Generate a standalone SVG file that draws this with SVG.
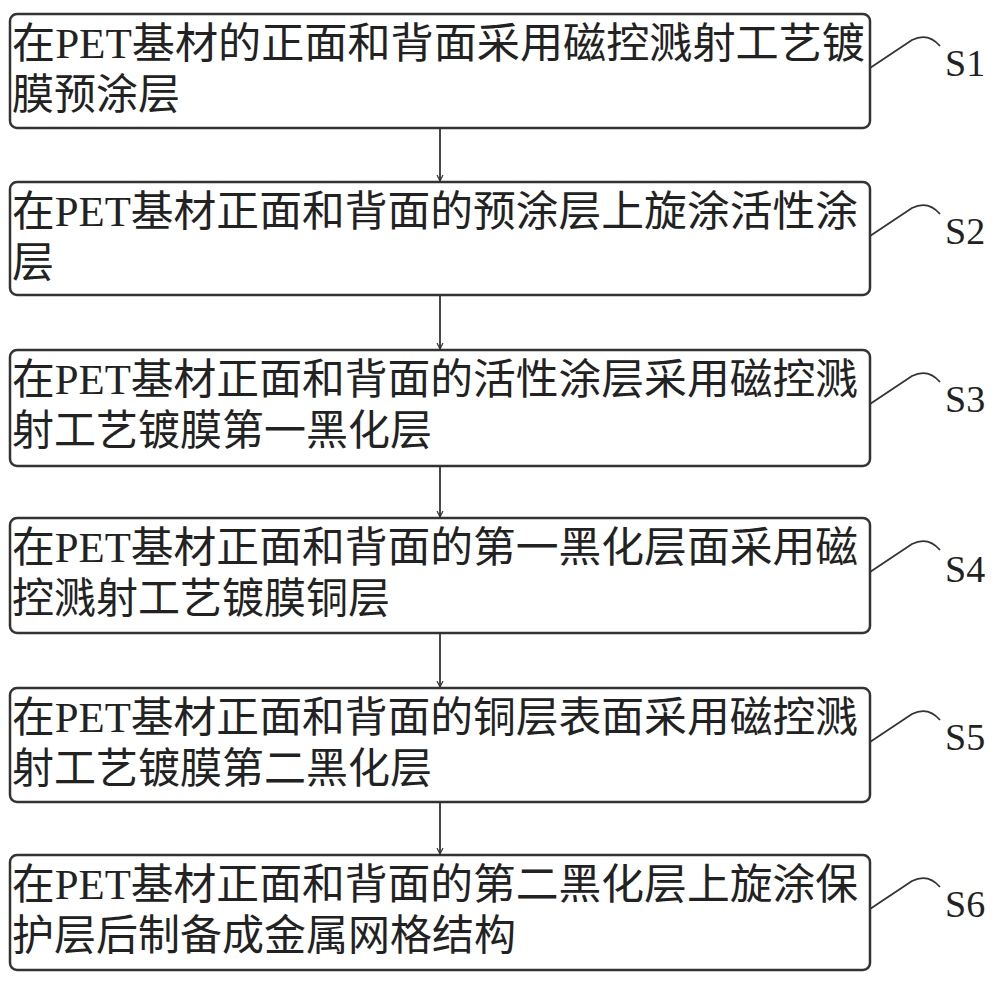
<svg xmlns="http://www.w3.org/2000/svg" width="1000" height="982" viewBox="0 0 1000 982">
<style>
.box{fill:#fff;stroke:#333;stroke-width:2.5}
.t{font-family:"Liberation Serif","Noto Sans CJK SC",serif;font-size:42px;fill:#222}
.s{font-family:"Liberation Serif",serif;font-size:38px;fill:#222}
.c{stroke:#333;stroke-width:1.8;fill:none}
</style>
<defs><marker id="a" markerWidth="8" markerHeight="8" refX="6" refY="4" orient="auto" markerUnits="userSpaceOnUse"><path d="M0,1 L6,4 L0,7" fill="none" stroke="#333" stroke-width="1.2"/></marker></defs>
<rect width="1000" height="982" fill="#fff"/>
<g id="connectors">
<line class="c" x1="440" y1="128" x2="440" y2="181" marker-end="url(#a)"/>
<line class="c" x1="440" y1="295" x2="440" y2="349" marker-end="url(#a)"/>
<line class="c" x1="440" y1="466" x2="440" y2="517" marker-end="url(#a)"/>
<line class="c" x1="440" y1="633" x2="440" y2="687" marker-end="url(#a)"/>
<line class="c" x1="440" y1="802" x2="440" y2="854" marker-end="url(#a)"/>
</g>
<g id="n1"><rect class="box" x="10" y="14" width="860" height="114" rx="7"/><text class="t" x="12" y="58" textLength="853" lengthAdjust="spacingAndGlyphs">在PET基材的正面和背面采用磁控溅射工艺镀</text><text class="t" x="12" y="109">膜预涂层</text><path class="c" d="M870,68 L912,40 Q928,32 940,46"/><text class="s" x="945" y="76">S1</text></g>
<g id="n2"><rect class="box" x="10" y="182" width="860" height="113" rx="7"/><text class="t" x="12" y="226" textLength="846" lengthAdjust="spacingAndGlyphs">在PET基材正面和背面的预涂层上旋涂活性涂</text><text class="t" x="12" y="277">层</text><path class="c" d="M870,236 L912,208 Q928,200 940,214"/><text class="s" x="945" y="244">S2</text></g>
<g id="n3"><rect class="box" x="10" y="350" width="860" height="116" rx="7"/><text class="t" x="12" y="394" textLength="846" lengthAdjust="spacingAndGlyphs">在PET基材正面和背面的活性涂层采用磁控溅</text><text class="t" x="12" y="445">射工艺镀膜第一黑化层</text><path class="c" d="M870,404 L912,376 Q928,368 940,382"/><text class="s" x="945" y="412">S3</text></g>
<g id="n4"><rect class="box" x="10" y="518" width="860" height="115" rx="7"/><text class="t" x="12" y="562" textLength="846" lengthAdjust="spacingAndGlyphs">在PET基材正面和背面的第一黑化层面采用磁</text><text class="t" x="12" y="613">控溅射工艺镀膜铜层</text><path class="c" d="M870,572 L912,544 Q928,536 940,550"/><text class="s" x="945" y="582">S4</text></g>
<g id="n5"><rect class="box" x="10" y="688" width="860" height="114" rx="7"/><text class="t" x="12" y="732" textLength="846" lengthAdjust="spacingAndGlyphs">在PET基材正面和背面的铜层表面采用磁控溅</text><text class="t" x="12" y="783">射工艺镀膜第二黑化层</text><path class="c" d="M870,742 L912,714 Q928,706 940,720"/><text class="s" x="945" y="750">S5</text></g>
<g id="n6"><rect class="box" x="10" y="855" width="860" height="115" rx="7"/><text class="t" x="12" y="899" textLength="846" lengthAdjust="spacingAndGlyphs">在PET基材正面和背面的第二黑化层上旋涂保</text><text class="t" x="12" y="950">护层后制备成金属网格结构</text><path class="c" d="M870,909 L912,881 Q928,873 940,887"/><text class="s" x="945" y="917">S6</text></g>
</svg>
